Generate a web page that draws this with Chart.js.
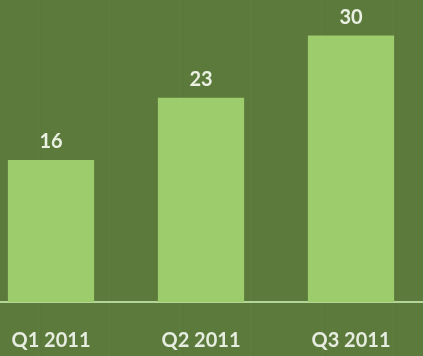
<!DOCTYPE html>
<html>
<head>
<meta charset="utf-8">
<script src="https://cdn.jsdelivr.net/npm/chart.js@4"></script>
<style>
  html, body {
    margin: 0;
    width: 423px;
    height: 356px;
    overflow: hidden;
    background-color: #5b7a3b;
    background-image: repeating-linear-gradient(90deg,
      rgba(255,255,255,0.00) 0px, rgba(255,255,255,0.00) 37px,
      rgba(255,255,255,0.025) 38px, rgba(0,0,0,0.025) 41px,
      rgba(255,255,255,0.00) 42px, rgba(255,255,255,0.00) 71px);
  }
  #wrap {
    position: absolute;
    left: -24px;
    top: 0;
    width: 450px;
    height: 356px;
  }
</style>
</head>
<body>
<div id="wrap"><canvas id="sales"></canvas></div>
<script>
const quarters = ["Q1 2011", "Q2 2011", "Q3 2011"];
const counts = [16, 23, 30];

// value labels sitting on top of each bar
const barValues = {
  id: "barValues",
  afterDatasetsDraw(chart) {
    const ctx = chart.ctx;
    const meta = chart.getDatasetMeta(0);
    ctx.save();
    ctx.font = "bold 20px Lato";
    ctx.fillStyle = "#eaf0e2";
    ctx.textAlign = "center";
    ctx.textBaseline = "bottom";
    meta.data.forEach((bar, i) => {
      ctx.fillText(String(counts[i]), bar.x, bar.y - 8);
    });
    ctx.restore();
  }
};

const ctx = document.getElementById("sales").getContext("2d");
const chart = new Chart(ctx, {
  type: "bar",
  data: {
    labels: quarters,
    datasets: [
      {
        label: "Count",
        data: counts,
        backgroundColor: "#9dcc6c",
        borderWidth: 0,
        categoryPercentage: 1,
        barPercentage: 0.575,
      },
    ],
  },
  options: {
    responsive: true,
    maintainAspectRatio: false,
    animation: false,
    layout: { padding: 0 },
    plugins: {
      legend: { display: false },
      tooltip: { enabled: false },
    },
    scales: {
      x: {
        grid: { display: false, drawTicks: false },
        border: { display: true, color: "#b3d698", width: 2 },
        ticks: {
          color: "#e6ede0",
          padding: 27,
          font: { family: "Lato", weight: "bold", size: 20 },
        },
        afterFit(scale) {
          scale.height = 54;
        },
      },
      y: {
        display: false,
        min: 0,
        max: 34,
      },
    },
  },
  plugins: [barValues],
});
</script>
</body>
</html>
